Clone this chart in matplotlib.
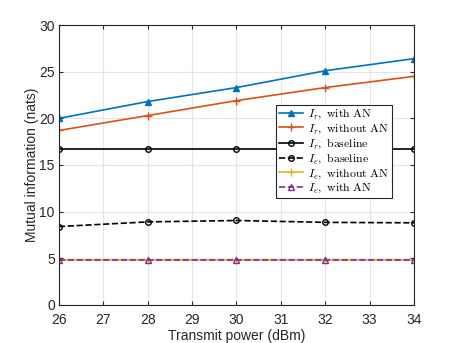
import matplotlib
matplotlib.use('Agg')
import matplotlib.pyplot as plt

plt.rcParams['mathtext.fontset'] = 'cm'
plt.rcParams['font.family'] = ['Liberation Sans', 'DejaVu Sans']

power = [26, 28, 30, 32, 34]
ir_with_an = [20.0, 21.8, 23.3, 25.1, 26.4]
ir_without_an = [18.7, 20.3, 21.9, 23.3, 24.5]
ir_baseline = [16.7, 16.7, 16.7, 16.7, 16.7]
ie_baseline = [8.4, 8.9, 9.05, 8.85, 8.8]
ie_without_an = [4.8, 4.8, 4.8, 4.8, 4.8]
ie_with_an = [4.8, 4.8, 4.8, 4.8, 4.8]

fig = plt.figure(figsize=(4.57, 3.43), dpi=100)
ax = fig.add_axes([0.129, 0.111, 0.777, 0.816])

ax.plot(power, ir_with_an, '-^', color='#0072BD', lw=1.2, ms=5,
        label=r'$I_r,\ \mathrm{with\ AN}$')
ax.plot(power, ir_without_an, '-+', color='#D95319', lw=1.2, ms=6,
        label=r'$I_r,\ \mathrm{without\ AN}$')
ax.plot(power, ir_baseline, '-o', color='black', lw=1.2, ms=4, mfc='none',
        label=r'$I_r,\ \mathrm{baseline}$')
ax.plot(power, ie_baseline, '--o', color='black', lw=1.2, ms=4, mfc='none',
        label=r'$I_e,\ \mathrm{baseline}$')
ax.plot(power, ie_without_an, '-+', color='#EDB120', lw=1.2, ms=6,
        label=r'$I_e,\ \mathrm{without\ AN}$')
ax.plot(power, ie_with_an, '--^', color='#7E2F8E', lw=1.2, ms=5, mfc='none',
        label=r'$I_e,\ \mathrm{with\ AN}$')

ax.set_xlim(26, 34)
ax.set_ylim(0, 30)
ax.set_xticks(range(26, 35))
ax.set_yticks(range(0, 31, 5))
ax.grid(True, color='#e5e5e5', lw=0.8)
ax.set_axisbelow(True)
ax.tick_params(direction='in', top=True, right=True, labelsize=10,
               color='#262626', labelcolor='#262626', length=3)
ax.tick_params(axis='x', pad=6)
ax.tick_params(axis='y', pad=3)
for s in ax.spines.values():
    s.set_color('#262626')
    s.set_linewidth(0.8)
ax.set_xlabel('Transmit power (dBm)', fontsize=10, color='#262626', labelpad=1)
ax.set_ylabel('Mutual information (nats)', fontsize=10, color='#262626', labelpad=0)

leg = ax.legend(loc='upper right', bbox_to_anchor=(0.938, 0.714), fontsize=8.5,
                fancybox=False, edgecolor='#262626', framealpha=1,
                handlelength=2.0, handletextpad=0.4, borderpad=0.25,
                labelspacing=0.08, borderaxespad=0)
leg.get_frame().set_linewidth(0.8)

fig.savefig('out.png', dpi=100)
plt.close(fig)
